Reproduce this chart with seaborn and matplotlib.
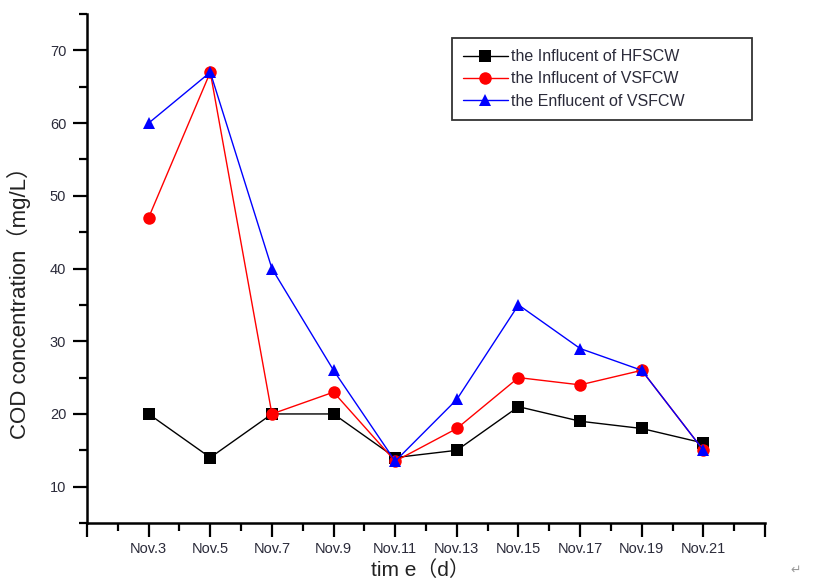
import matplotlib
matplotlib.use("Agg")
import matplotlib.pyplot as plt
import seaborn as sns
import pandas as pd
from matplotlib.ticker import FixedLocator

# sampling days (November)
days = [3, 5, 7, 9, 11, 13, 15, 17, 19, 21]
day_labels = ["Nov.3", "Nov.5", "Nov.7", "Nov.9", "Nov.11",
              "Nov.13", "Nov.15", "Nov.17", "Nov.19", "Nov.21"]

# COD concentration, mg/L
hfscw_influent = [20, 14, 20, 20, 14, 15, 21, 19, 18, 16]
vsfcw_influent = [47, 67, 20, 23, 13.5, 18, 25, 24, 26, 15]
vsfcw_effluent = [60, 67, 40, 26, 13.5, 22, 35, 29, 26, 15]

series_names = ["the Influcent of HFSCW",
                "the Influcent of VSFCW",
                "the Enflucent of VSFCW"]

frames = []
for name, vals in zip(series_names, [hfscw_influent, vsfcw_influent, vsfcw_effluent]):
    frames.append(pd.DataFrame({"day": days, "cod": vals, "series": name}))
df = pd.concat(frames, ignore_index=True)

sns.set_theme(style="ticks")
plt.rcParams["font.family"] = ["Liberation Sans", "Noto Sans CJK SC", "DejaVu Sans"]

fig = plt.figure(figsize=(8.13, 5.81), dpi=100)
ax = fig.add_axes([0.107, 0.0998, 0.834, 0.876])

palette = {series_names[0]: "black", series_names[1]: "#ff0000", series_names[2]: "#0000ff"}
markers = {series_names[0]: "s", series_names[1]: "o", series_names[2]: "^"}

sns.lineplot(data=df, x="day", y="cod", hue="series", style="series",
             palette=palette, markers=markers, dashes=False,
             markersize=9, markeredgewidth=0, linewidth=1.0, ax=ax)

ax.set_xlim(1, 23)
ax.set_ylim(5, 75)

ax.xaxis.set_major_locator(FixedLocator(list(range(1, 24, 2))))
ax.xaxis.set_minor_locator(FixedLocator(list(range(2, 23, 2))))
ax.set_xticklabels([""] + day_labels + [""])
ax.yaxis.set_major_locator(FixedLocator([10, 20, 30, 40, 50, 60, 70]))
ax.set_yticklabels(["10", "20", "30", "40", "50", "60", "70"])
ax.yaxis.set_minor_locator(FixedLocator([5, 15, 25, 35, 45, 55, 65, 75]))

ax.tick_params(axis="both", which="major", direction="out", length=10, width=1.6,
               color="black", labelsize=10.5, labelcolor="#2b2b3a")
ax.tick_params(axis="both", which="minor", direction="out", length=6, width=1.6,
               color="black")
ax.tick_params(axis="x", which="major", pad=4)
ax.tick_params(axis="y", which="major", pad=5)

for side in ["top", "right"]:
    ax.spines[side].set_visible(False)
for side in ["left", "bottom"]:
    ax.spines[side].set_linewidth(1.8)
    ax.spines[side].set_color("black")

ax.set_xlabel("tim e（d）", fontsize=15, color="#222222")
ax.xaxis.label.set_va("bottom")
ax.xaxis.set_label_coords(0.491, -0.112)
ax.set_ylabel("COD concentration（mg/L）", fontsize=16, color="#222222")
ax.yaxis.set_label_coords(-0.082, 0.444)

leg = ax.legend(loc="upper left", bbox_to_anchor=(0.538, 0.792, 0.443, 0.161),
                mode="expand", borderaxespad=0, fontsize=11.5,
                frameon=True, fancybox=False, edgecolor="black",
                handlelength=2.8, handletextpad=0.2, borderpad=0.7,
                labelspacing=0.45, markerscale=1.0)
leg.get_frame().set_linewidth(1.3)
for t in leg.get_texts():
    t.set_color("#2b2b3a")

fig.text(0.985, 0.008, "↵", fontsize=9, color="#999999", ha="right", va="bottom",
         family=["DejaVu Sans"])

fig.savefig("out.png", dpi=100, facecolor="white")
